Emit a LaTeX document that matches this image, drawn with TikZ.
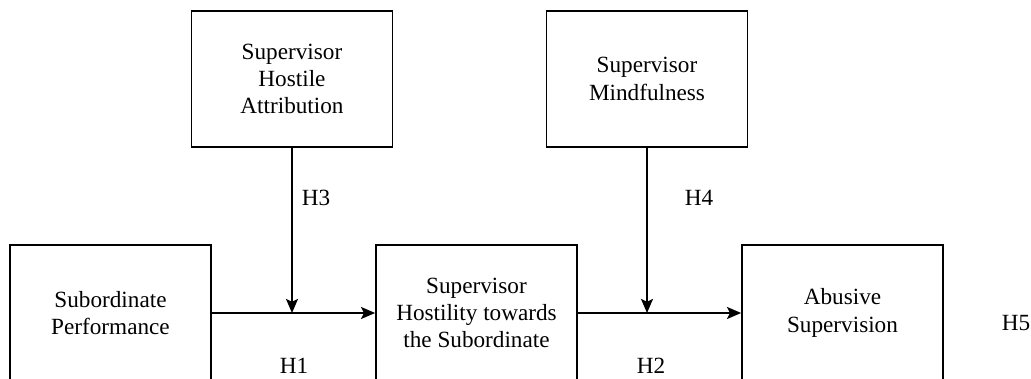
\documentclass[tikz,border=0pt]{standalone}
\usepackage{fontspec}
\setmainfont{Liberation Serif}
\usetikzlibrary{arrows.meta}
\tikzset{
  varbox/.style={draw, line width=1.2pt, minimum width=5.025cm, minimum height=3.4cm,
    align=center, font=\fontsize{16.5}{19.5}\selectfont},
  hyp/.style={font=\fontsize{16.5}{19.5}\selectfont}
}
\begin{document}
\begin{tikzpicture}[x=0.025cm, y=-0.025cm, line width=1.4pt, >={Stealth[length=10pt,width=8.5pt,inset=2pt]}]
  \useasboundingbox (0,0) rectangle (1031,379);
  \clip (0,0) rectangle (1031,379);
  % variables
  \node[varbox] (hostile) at (292,79) {Supervisor\\Hostile\\Attribution};
  \node[varbox] (mindful) at (647,79) {Supervisor\\Mindfulness};
  \node[varbox] (perf) at (110.5,313) {Subordinate\\Performance};
  \node[varbox] (hostility) at (476.5,313) {Supervisor\\Hostility towards\\the Subordinate};
  \node[varbox] (abusive) at (842.5,313) {Abusive\\Supervision};
  % paths
  \draw[->] (perf.east) -- (hostility.west);
  \draw[->] (hostility.east) -- (abusive.west);
  \draw[->] (hostile.south) -- (hostile.south |- perf.east);
  \draw[->] (mindful.south) -- (mindful.south |- hostility.east);
  % hypotheses
  \node[hyp] (h1) at (294,366) {H1};
  \node[hyp] (h2) at (651,366) {H2};
  \node[hyp] (h3) at (316,198) {H3};
  \node[hyp] (h4) at (699,198) {H4};
  \node[hyp] (h5) at (1016,323) {H5};
\end{tikzpicture}
\end{document}
